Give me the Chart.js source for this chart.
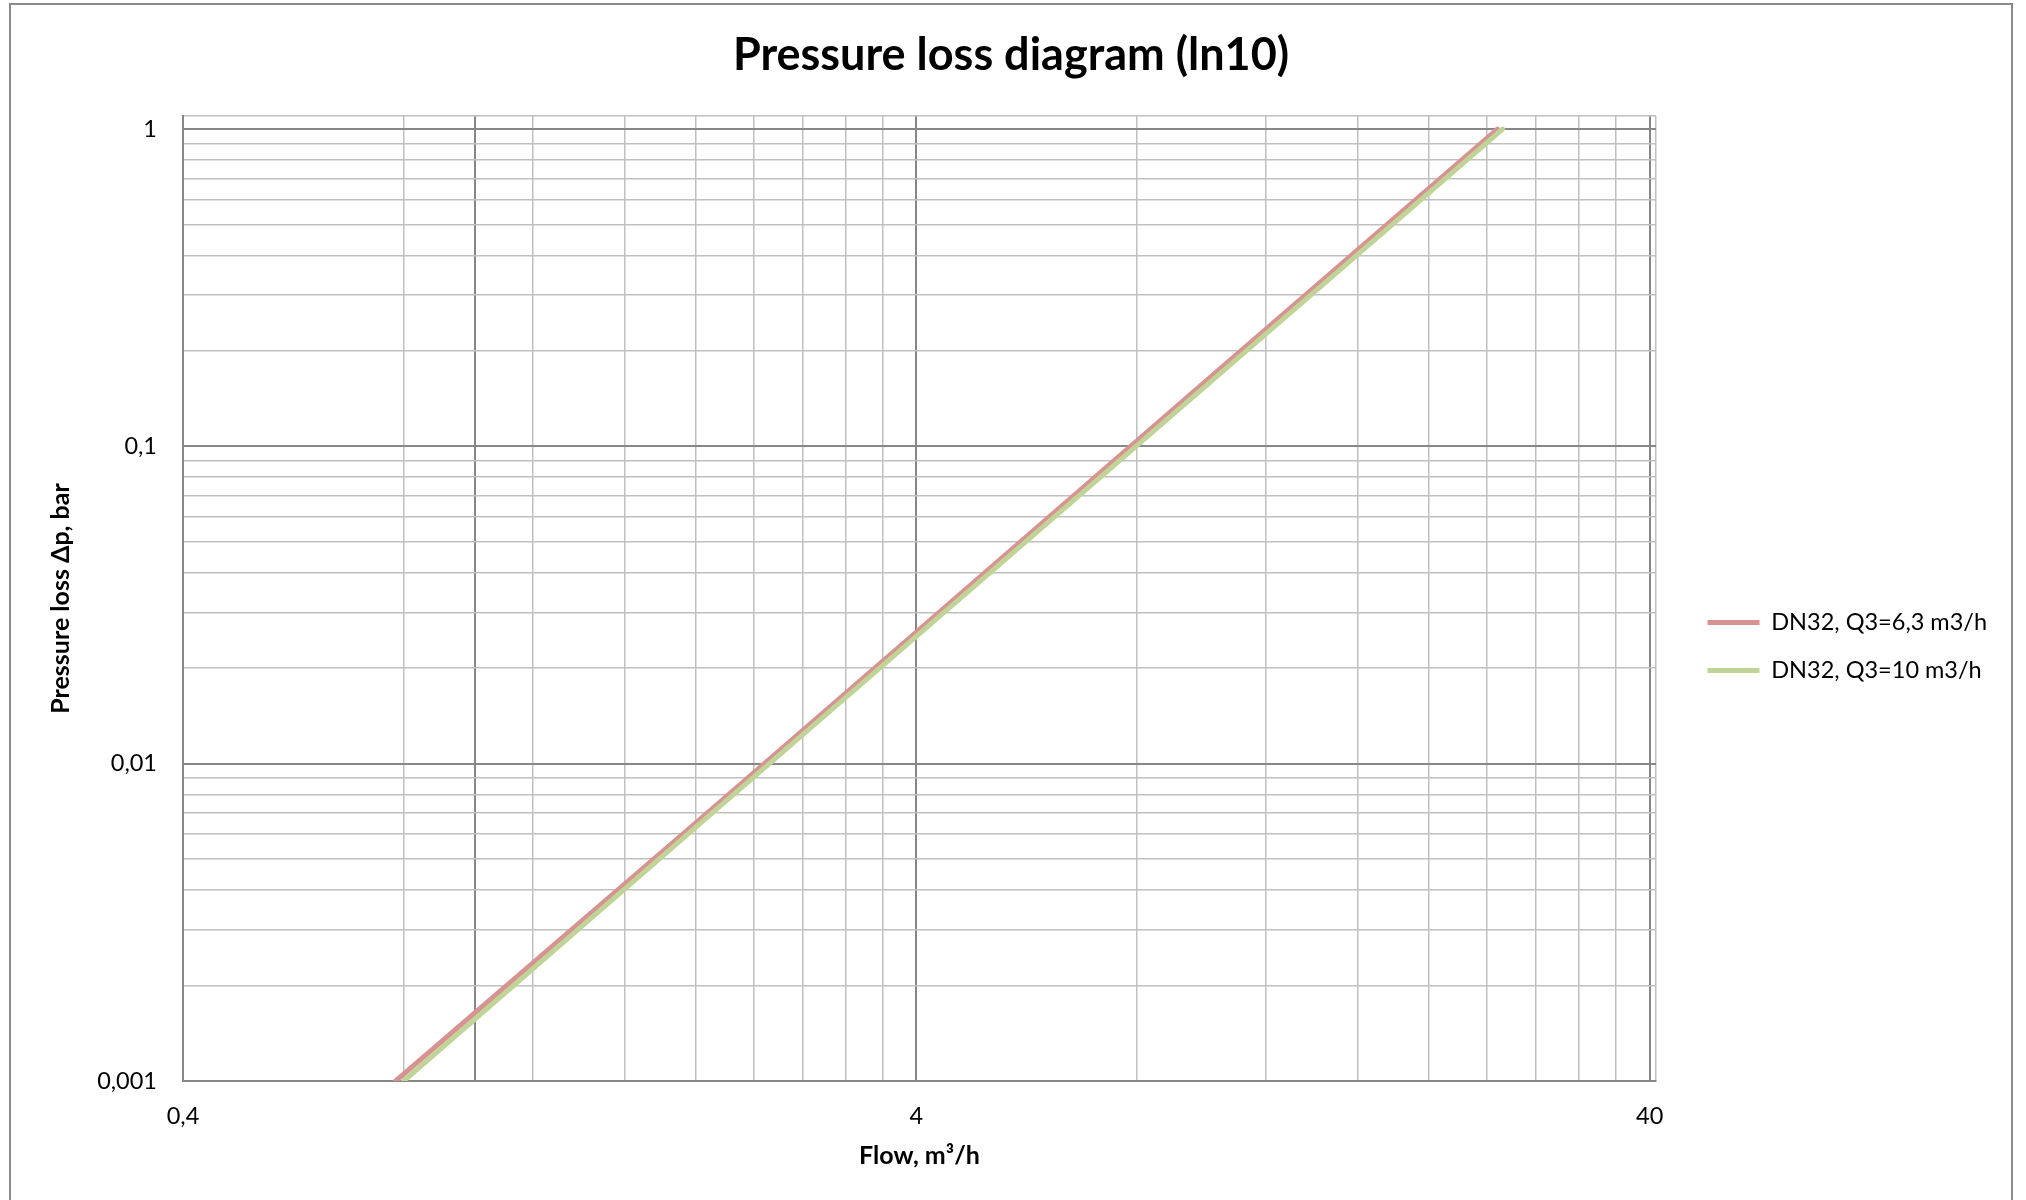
<!DOCTYPE html>
<html>
<head>
<meta charset="utf-8">
<title>Pressure loss diagram</title>
<script src="https://cdn.jsdelivr.net/npm/chart.js@4.4.1/dist/chart.umd.min.js"></script>
<style>
    html, body { margin: 0; padding: 0; background: #fff; overflow: hidden; }
    #frame { position: absolute; left: 9px; top: 3px; width: 2000px; height: 1400px; border: 2px solid #8a8a8a; }
    #chart { position: absolute; left: 0; top: 0; }
</style>
</head>
<body>
<div id="frame"></div>
<canvas id="chart" width="2026" height="1200"></canvas>
<script>
// Flow (m3/h) against pressure loss (bar)
const flowQ63 = [0.78, 2, 4, 10, 24.8];
const lossQ63 = [0.001, 0.0065, 0.026, 0.163, 1];
const flowQ10 = [0.8, 2, 4, 10, 25.2];
const lossQ10 = [0.001, 0.0063, 0.0252, 0.1575, 1];

const seriesNames = ['DN32, Q3=6,3 m3/h', 'DN32, Q3=10 m3/h'];

// Labelled ticks
const xTickValues = [0.4, 4, 40];
const xTickLabels = ['0,4', '4', '40'];
const yTickValues = [0.001, 0.01, 0.1, 1];
const yTickLabels = ['0,001', '0,01', '0,1', '1'];

// Grid lines (the last light value is the far edge of the plot)
const xDarkLines = [1, 4, 40];
const xLightLines = [0.8, 1.2, 1.6, 2, 2.4, 2.8, 3.2, 3.6, 8, 12, 16, 20, 24, 28, 32, 36, 40.8];
const yDarkLines = [0.01, 0.1, 1];
const yLightLines = [0.002, 0.003, 0.004, 0.005, 0.006, 0.007, 0.008, 0.009,
    0.02, 0.03, 0.04, 0.05, 0.06, 0.07, 0.08, 0.09,
    0.2, 0.3, 0.4, 0.5, 0.6, 0.7, 0.8, 0.9, 1.1];

const DARK = '#878787';
const LIGHT = '#c0c0c0';

Chart.defaults.font.family = "Lato, 'Noto Sans', sans-serif";
Chart.defaults.color = '#000';

function gridValues(first, dark, light) {
    return [first, ...dark, ...light].sort((a, b) => a - b).map(v => ({ value: v }));
}

function tickLabel(values, labels) {
    return (value) => {
        const i = values.indexOf(value);
        return i >= 0 ? labels[i] : '';
    };
}

function gridStyle(dark) {
    return {
        drawTicks: false,
        color: (ctx) => (ctx.tick && dark.includes(ctx.tick.value)) ? DARK : LIGHT,
        lineWidth: (ctx) => (ctx.tick && dark.includes(ctx.tick.value)) ? 2 : 1.5
    };
}

// Legend keeps the column width of the original, and sits a bit lower and further right
const legendPlacement = {
    id: 'legendPlacement',
    beforeLayout(chart) {
        const legend = chart.legend;
        if (legend && !legend.fixedWidth) {
            const fit = legend.fit;
            legend.fit = function () {
                fit.call(this);
                if (this.width > 0) this.width = 356;
            };
            legend.fixedWidth = true;
        }
    },
    afterLayout(chart) {
        const legend = chart.legend;
        legend.left += 27;
        legend.right += 27;
        legend.top += 58;
        legend.bottom += 58;
    }
};

new Chart(document.getElementById('chart'), {
    type: 'line',
    data: {
        datasets: [{
            label: seriesNames[0],
            data: flowQ63.map((q, i) => ({ x: q, y: lossQ63[i] })),
            borderColor: '#d79391',
            borderWidth: 5,
            borderCapStyle: 'round',
            pointRadius: 0,
            clip: 0,
            order: 1
        }, {
            label: seriesNames[1],
            data: flowQ10.map((q, i) => ({ x: q, y: lossQ10[i] })),
            borderColor: '#c0d498',
            borderWidth: 5,
            borderCapStyle: 'round',
            pointRadius: 0,
            clip: 0,
            order: 0
        }]
    },
    options: {
        responsive: false,
        animation: false,
        devicePixelRatio: 1,
        layout: { padding: { left: 10, right: 14, top: 0, bottom: 23 } },
        plugins: {
            title: {
                display: true,
                text: 'Pressure loss diagram (ln10)',
                color: '#000',
                font: { size: 45, weight: 'bold' },
                padding: { top: 28, bottom: 34 }
            },
            legend: {
                position: 'right',
                labels: {
                    usePointStyle: true,
                    pointStyle: 'line',
                    pointStyleWidth: 52,
                    padding: 24.5,
                    color: '#000',
                    font: { size: 23.5 },
                    sort: (a, b) => a.datasetIndex - b.datasetIndex
                }
            },
            tooltip: { enabled: false }
        },
        scales: {
            x: {
                type: 'logarithmic',
                min: 0.4,
                max: 40.8,
                afterBuildTicks: (axis) => { axis.ticks = gridValues(0.4, xDarkLines, xLightLines); },
                afterFit: (axis) => { axis.height = 96; },
                ticks: {
                    autoSkip: false,
                    maxRotation: 0,
                    padding: 21,
                    font: { size: 23.5 },
                    callback: tickLabel(xTickValues, xTickLabels)
                },
                grid: gridStyle(xDarkLines),
                border: { color: DARK, width: 2 },
                title: {
                    display: true,
                    text: 'Flow, m³/h',
                    font: { size: 25, weight: 'bold' },
                    padding: { top: 0, bottom: 6 }
                }
            },
            y: {
                type: 'logarithmic',
                min: 0.001,
                max: 1.1,
                afterBuildTicks: (axis) => { axis.ticks = gridValues(0.001, yDarkLines, yLightLines); },
                afterFit: (axis) => { axis.width = 173; },
                ticks: {
                    autoSkip: false,
                    padding: 26,
                    font: { size: 23.5 },
                    callback: tickLabel(yTickValues, yTickLabels)
                },
                grid: gridStyle(yDarkLines),
                border: { color: DARK, width: 2 },
                title: {
                    display: true,
                    text: 'Pressure loss Δp, bar',
                    font: { size: 25, weight: 'bold' },
                    padding: { top: 36, bottom: 0 }
                }
            }
        }
    },
    plugins: [legendPlacement]
});
</script>
</body>
</html>
